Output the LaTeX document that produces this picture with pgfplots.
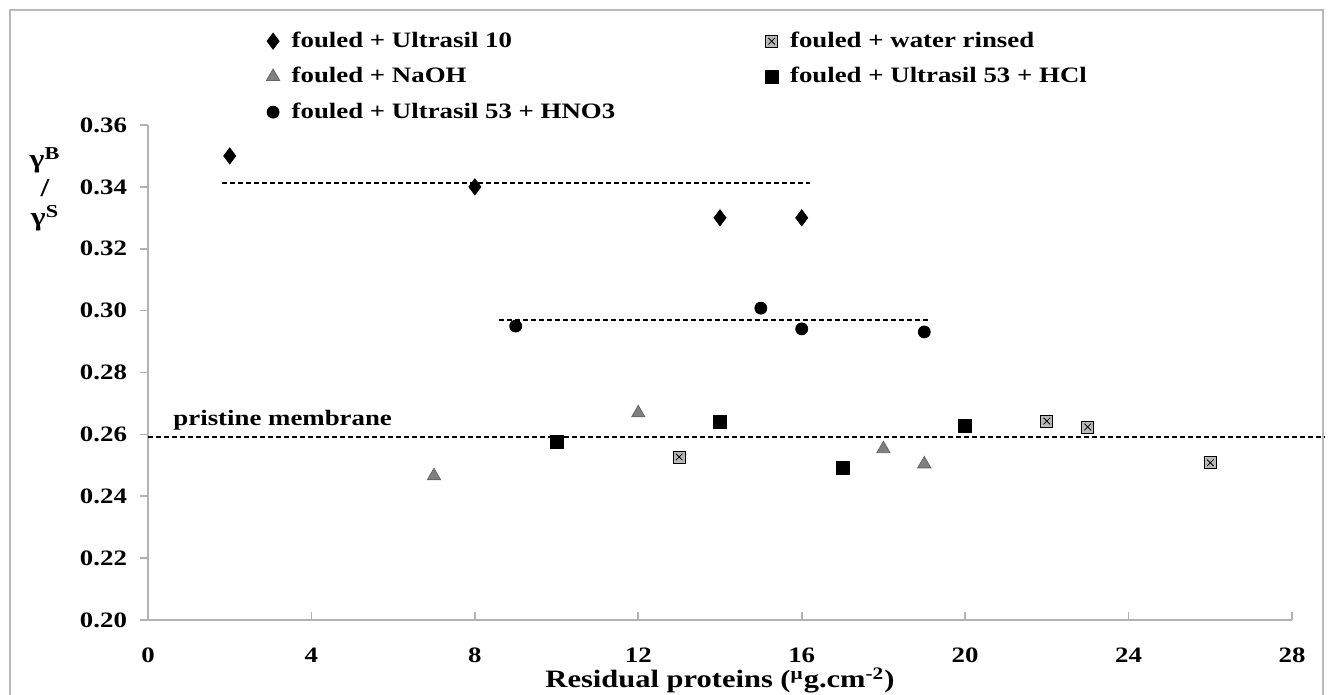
\documentclass[border=0pt]{standalone}
\usepackage{fontspec}
\setmainfont{Liberation Serif}[FakeStretch=1.22]
\usepackage{pgfplots}
\pgfplotsset{compat=1.18}

% crossed square marker (water rinsed)
\pgfdeclareplotmark{xsquare}{%
  \pgfpathrectangle{\pgfqpoint{-\pgfplotmarksize}{-\pgfplotmarksize}}{\pgfqpoint{2\pgfplotmarksize}{2\pgfplotmarksize}}%
  \pgfusepathqfillstroke
  \pgfpathmoveto{\pgfqpoint{-0.55\pgfplotmarksize}{-0.55\pgfplotmarksize}}%
  \pgfpathlineto{\pgfqpoint{0.55\pgfplotmarksize}{0.55\pgfplotmarksize}}%
  \pgfpathmoveto{\pgfqpoint{-0.55\pgfplotmarksize}{0.55\pgfplotmarksize}}%
  \pgfpathlineto{\pgfqpoint{0.55\pgfplotmarksize}{-0.55\pgfplotmarksize}}%
  \pgfusepathqstroke}

\begin{document}
\begin{tikzpicture}
\useasboundingbox (0pt,0pt) rectangle (666.5pt,347.5pt);
\draw[gray!55, line width=1.2pt] (5pt,-20pt) -- (5pt,342.5pt) -- (661.5pt,342.5pt) -- (661.5pt,-20pt);
\begin{axis}[
  at={(74pt,37.5pt)}, anchor=south west,
  scale only axis, width=572pt, height=247.5pt,
  xmin=0, xmax=28, ymin=0.2, ymax=0.36,
  xtick={0,4,8,12,16,20,24,28},
  ytick={0.20,0.22,0.24,0.26,0.28,0.30,0.32,0.34,0.36},
  axis lines*=left,
  axis line style={gray!60, line width=1pt},
  tick align=inside, major tick length=4pt,
  tick style={gray!60, line width=0.8pt},
  ytick style={xshift=-4pt},
  clip=false,
  font=\fontsize{11}{13}\selectfont\bfseries,
  /pgf/number format/assume math mode=true,
  yticklabel style={/pgf/number format/fixed, /pgf/number format/fixed zerofill,
    /pgf/number format/precision=2, xshift=-7pt},
  xticklabel style={yshift=-10.5pt},
  xlabel={Residual proteins (\textsuperscript{μ}g.cm\textsuperscript{-2})},
  xlabel style={yshift=4.5pt, font=\fontsize{12.5}{14}\selectfont\bfseries},
  ylabel={γ\textsuperscript{B}\\/\\γ\textsuperscript{S}},
  ylabel style={rotate=-90, align=center, at={(axis description cs:-0.09,0.87)}, anchor=center,
    font=\fontsize{13}{14.5}\selectfont\bfseries},
  legend columns=2,
  legend cell align=left,
  legend style={draw=none, fill=none, at={(axis description cs:0.098,1.205)}, anchor=north west,
    row sep=4.5pt,
    /tikz/every odd column/.append style={column sep=4pt},
    /tikz/every even column/.append style={column sep=73pt}},
]
% mean lines
\addplot[black, dash pattern=on 2.5pt off 1.5pt, line width=1pt, forget plot] coordinates {(1.8,0.3413) (16.2,0.3413)};
\addplot[black, dash pattern=on 2.5pt off 1.5pt, line width=1pt, forget plot] coordinates {(8.6,0.2970) (19.1,0.2970)};
\addplot[black, dash pattern=on 2.5pt off 1.5pt, line width=1pt, forget plot] coordinates {(0,0.2592) (28.8,0.2592)};

\addplot[only marks, mark=diamond*, mark size=4pt, black] coordinates {(2,0.350) (8,0.340) (14,0.330) (16,0.330)};
\addlegendentry{fouled + Ultrasil 10}
\addplot[only marks, mark=xsquare, mark size=3pt, draw=black, fill=gray!55] coordinates {(13,0.2527) (22,0.2643) (23,0.2624) (26,0.2508)};
\addlegendentry{fouled + water rinsed}
\addplot[only marks, mark=triangle*, mark size=3.8pt, draw=gray!80!black, fill=gray] coordinates {(7,0.2466) (12,0.2669) (18,0.2553) (19,0.2504)};
\addlegendentry{fouled + NaOH}
\addplot[only marks, mark=square*, mark size=3.2pt, black] coordinates {(10,0.2576) (14,0.2640) (17,0.2491) (20,0.2627)};
\addlegendentry{fouled + Ultrasil 53 + HCl}
\addplot[only marks, mark=*, mark size=3pt, black] coordinates {(9,0.2950) (15,0.3008) (16,0.2941) (19,0.2931)};
\addlegendentry{fouled + Ultrasil 53 + HNO3}

\node[anchor=base west] at (axis cs:0.45,0.2630) {pristine membrane};
\end{axis}
\end{tikzpicture}
\end{document}
